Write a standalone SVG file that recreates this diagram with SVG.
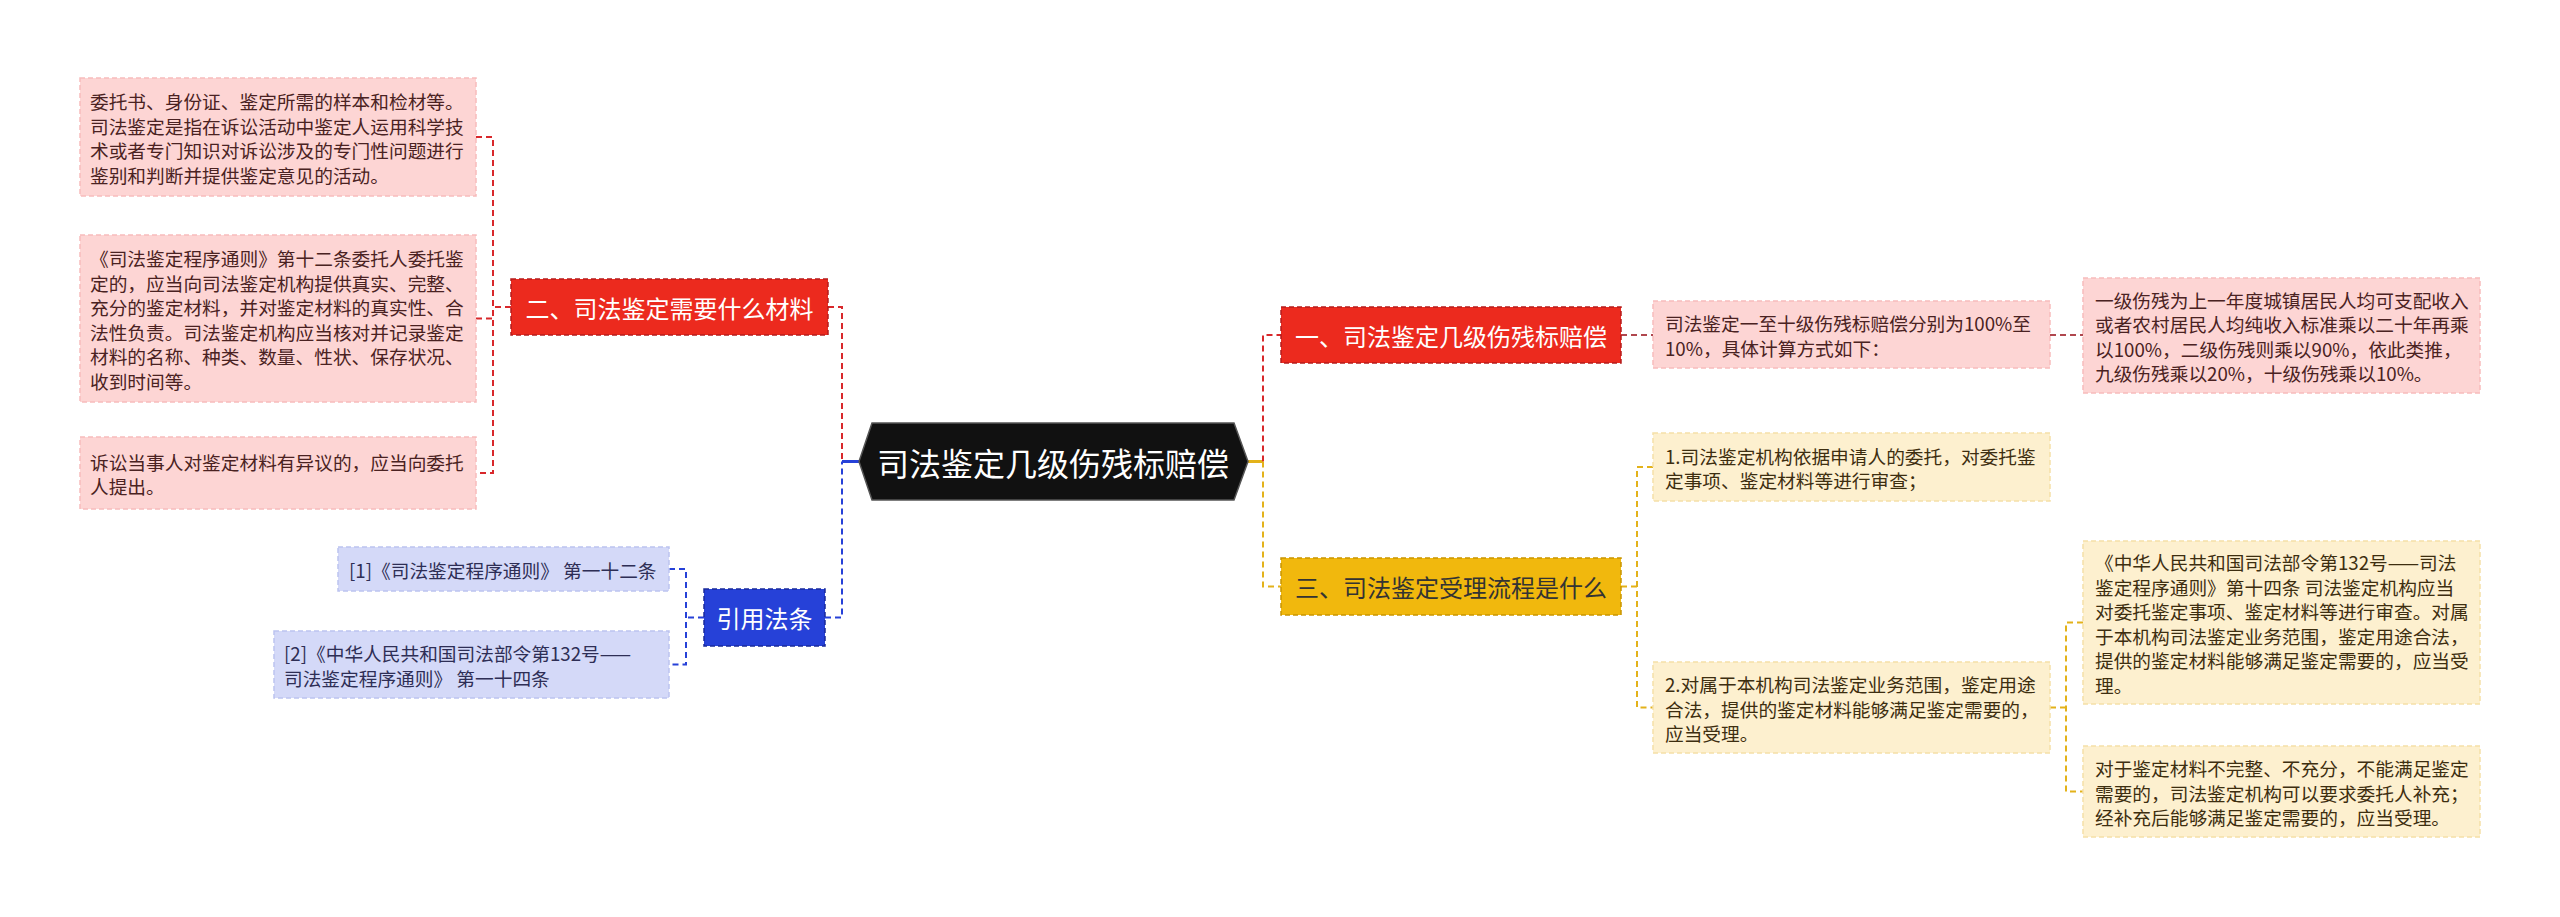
<svg xmlns="http://www.w3.org/2000/svg" width="2560" height="917" viewBox="0 0 2560 917">
<style>
text{font-family:"Noto Sans CJK SC","Liberation Sans",sans-serif;dominant-baseline:central}
.t{font-size:18.7px}
.tp{fill:#4a2222}
.ty{fill:#3d2e10}
.tb{fill:#2e2e55}
.h{font-size:24px;text-anchor:middle}
.pink{fill:#fdd5d4;stroke:#f7bcbc;stroke-width:1.5;stroke-dasharray:5 3}
.cream{fill:#fdf0cf;stroke:#f5e0a8;stroke-width:1.5;stroke-dasharray:5 3}
.lav{fill:#d4d9f8;stroke:#bcc3f0;stroke-width:1.5;stroke-dasharray:5 3}
.red{fill:#ec2a1e;stroke:#b51d1d;stroke-width:1.5;stroke-dasharray:5 3}
.blue{fill:#2641d8;stroke:#1a2a9a;stroke-width:1.5;stroke-dasharray:5 3}
.gold{fill:#f1b80d;stroke:#c99500;stroke-width:1.5;stroke-dasharray:5 3}
.c{fill:none;stroke-width:2;stroke-dasharray:6 4}
.cr{stroke:#d8282b}
.cb{stroke:#2641d8}
.cy{stroke:#e3b21a}
.cm{stroke:#b0474e}
</style>
<rect width="2560" height="917" fill="#ffffff"/>
<g id="connectors">
  <line x1="859" y1="461.5" x2="842" y2="461.5" stroke="#2641d8" stroke-width="3"/>
  <path class="c cr" d="M828 307H842V461.5"/>
  <path class="c cb" d="M825 617.5H842V461.5"/>
  <path class="c cr" d="M511 307H493M476 137H493V473H476M476 318.5H493"/>
  <path class="c cb" d="M704 617.5H686M669 569H686V664.5H669"/>
  <line x1="1248" y1="461.5" x2="1263" y2="461.5" stroke="#e3b21a" stroke-width="3"/>
  <path class="c cr" d="M1263 461.5V335H1281"/>
  <path class="c cy" d="M1263 461.5V586.5H1281"/>
  <path class="c cm" d="M1621 335H1653M2050 335H2083"/>
  <path class="c cy" d="M1621 586.5H1637M1653 467H1637V707.5H1653"/>
  <path class="c cy" d="M2050 707.5H2066M2083 622.5H2066V791.5H2083"/>
</g>
<g id="root">
  <polygon points="859,461.5 872,423 1234,423 1248,461.5 1234,500 872,500" fill="#111111" stroke="#555555" stroke-width="1.5"/>
  <text x="1053" y="461.5" font-size="32" fill="#ffffff" text-anchor="middle">司法鉴定几级伤残标赔偿</text>
</g>
<g id="n-left-red">
  <rect class="red" x="511" y="279" width="317" height="56"/>
  <text class="h" x="669.5" y="307" fill="#ffffff">二、司法鉴定需要什么材料</text>
</g>
<g id="n-l1">
  <rect class="pink" x="80" y="78" width="396" height="118"/>
  <text class="t tp" x="90"><tspan x="90" y="100.25">委托书、身份证、鉴定所需的样本和检材等。</tspan><tspan x="90" y="124.75">司法鉴定是指在诉讼活动中鉴定人运用科学技</tspan><tspan x="90" y="149.25">术或者专门知识对诉讼涉及的专门性问题进行</tspan><tspan x="90" y="173.75">鉴别和判断并提供鉴定意见的活动。</tspan></text>
</g>
<g id="n-l2">
  <rect class="pink" x="80" y="235" width="396" height="167"/>
  <text class="t tp"><tspan x="90" y="257.25">《司法鉴定程序通则》第十二条委托人委托鉴</tspan><tspan x="90" y="281.75">定的，应当向司法鉴定机构提供真实、完整、</tspan><tspan x="90" y="306.25">充分的鉴定材料，并对鉴定材料的真实性、合</tspan><tspan x="90" y="330.75">法性负责。司法鉴定机构应当核对并记录鉴定</tspan><tspan x="90" y="355.25">材料的名称、种类、数量、性状、保存状况、</tspan><tspan x="90" y="379.75">收到时间等。</tspan></text>
</g>
<g id="n-l3">
  <rect class="pink" x="80" y="437" width="396" height="72"/>
  <text class="t tp"><tspan x="90" y="460.75">诉讼当事人对鉴定材料有异议的，应当向委托</tspan><tspan x="90" y="485.25">人提出。</tspan></text>
</g>
<g id="n-refs">
  <rect class="blue" x="704" y="589" width="121" height="57"/>
  <text class="h" x="764.5" y="617.5" fill="#ffffff">引用法条</text>
</g>
<g id="n-r1">
  <rect class="lav" x="338" y="547" width="331" height="44"/>
  <text class="t tb" x="349" y="569">[1]《司法鉴定程序通则》 第一十二条</text>
</g>
<g id="n-r2">
  <rect class="lav" x="274" y="631" width="395" height="67"/>
  <text class="t tb"><tspan x="284" y="652.25">[2]《中华人民共和国司法部令第132号——</tspan><tspan x="284" y="676.75">司法鉴定程序通则》 第一十四条</tspan></text>
</g>
<g id="n-right-red">
  <rect class="red" x="1281" y="307" width="340" height="56"/>
  <text class="h" x="1451" y="335" fill="#ffffff">一、司法鉴定几级伤残标赔偿</text>
</g>
<g id="n-p1">
  <rect class="pink" x="1653" y="301" width="397" height="67"/>
  <text class="t tp"><tspan x="1665" y="322.25">司法鉴定一至十级伤残标赔偿分别为100%至</tspan><tspan x="1665" y="346.75">10%，具体计算方式如下：</tspan></text>
</g>
<g id="n-p2">
  <rect class="pink" x="2083" y="278" width="397" height="115"/>
  <text class="t tp"><tspan x="2095" y="298.75">一级伤残为上一年度城镇居民人均可支配收入</tspan><tspan x="2095" y="323.25">或者农村居民人均纯收入标准乘以二十年再乘</tspan><tspan x="2095" y="347.75">以100%，二级伤残则乘以90%，依此类推，</tspan><tspan x="2095" y="372.25">九级伤残乘以20%，十级伤残乘以10%。</tspan></text>
</g>
<g id="n-gold">
  <rect class="gold" x="1281" y="558" width="340" height="57"/>
  <text class="h" x="1451" y="586.5" fill="#333333">三、司法鉴定受理流程是什么</text>
</g>
<g id="n-y1">
  <rect class="cream" x="1653" y="433" width="397" height="68"/>
  <text class="t ty"><tspan x="1665" y="454.75">1.司法鉴定机构依据申请人的委托，对委托鉴</tspan><tspan x="1665" y="479.25">定事项、鉴定材料等进行审查；</tspan></text>
</g>
<g id="n-y2">
  <rect class="cream" x="1653" y="662" width="397" height="91"/>
  <text class="t ty"><tspan x="1665" y="683">2.对属于本机构司法鉴定业务范围，鉴定用途</tspan><tspan x="1665" y="707.5">合法，提供的鉴定材料能够满足鉴定需要的，</tspan><tspan x="1665" y="732">应当受理。</tspan></text>
</g>
<g id="n-y3">
  <rect class="cream" x="2083" y="541" width="397" height="163"/>
  <text class="t ty"><tspan x="2095" y="561.25">《中华人民共和国司法部令第132号——司法</tspan><tspan x="2095" y="585.75">鉴定程序通则》第十四条 司法鉴定机构应当</tspan><tspan x="2095" y="610.25">对委托鉴定事项、鉴定材料等进行审查。对属</tspan><tspan x="2095" y="634.75">于本机构司法鉴定业务范围，鉴定用途合法，</tspan><tspan x="2095" y="659.25">提供的鉴定材料能够满足鉴定需要的，应当受</tspan><tspan x="2095" y="683.75">理。</tspan></text>
</g>
<g id="n-y4">
  <rect class="cream" x="2083" y="746" width="397" height="91"/>
  <text class="t ty"><tspan x="2095" y="767">对于鉴定材料不完整、不充分，不能满足鉴定</tspan><tspan x="2095" y="791.5">需要的，司法鉴定机构可以要求委托人补充；</tspan><tspan x="2095" y="816">经补充后能够满足鉴定需要的，应当受理。</tspan></text>
</g>
</svg>
